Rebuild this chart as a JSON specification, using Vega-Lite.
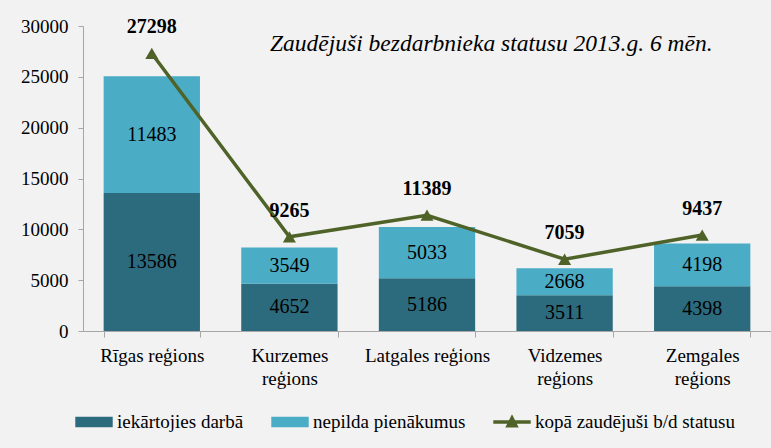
{
  "$schema": "https://vega.github.io/schema/vega-lite/v6.json",
  "autosize": "none",
  "padding": {"left": 83, "top": 26, "right": 0, "bottom": 117},
  "width": 688,
  "height": 305,
  "background": "#F2F2F2",
  "title": {
    "text": "Zaudējuši bezdarbnieka statusu 2013.g. 6 mēn.",
    "font": "Liberation Serif",
    "fontStyle": "italic",
    "fontWeight": "normal",
    "fontSize": 23.5,
    "color": "#000000",
    "anchor": "start",
    "frame": "group",
    "baseline": "alphabetic",
    "offset": 0,
    "dx": 187,
    "dy": 57
  },
  "config": {
    "view": {"stroke": null},
    "font": "Liberation Serif",
    "style": {"guide-label": {"font": "Liberation Serif"}, "guide-title": {"font": "Liberation Serif"}},
    "axis": {"labelFont": "Liberation Serif"},
    "legend": {"labelFont": "Liberation Serif"}
  },
  "datasets": {
    "bars": [
      {"region": "Rīgas reģions", "series": "iekārtojies darbā", "value": 13586, "order": 1},
      {"region": "Rīgas reģions", "series": "nepilda pienākumus", "value": 11483, "order": 2},
      {"region": "Kurzemes reģions", "series": "iekārtojies darbā", "value": 4652, "order": 1},
      {"region": "Kurzemes reģions", "series": "nepilda pienākumus", "value": 3549, "order": 2},
      {"region": "Latgales reģions", "series": "iekārtojies darbā", "value": 5186, "order": 1},
      {"region": "Latgales reģions", "series": "nepilda pienākumus", "value": 5033, "order": 2},
      {"region": "Vidzemes reģions", "series": "iekārtojies darbā", "value": 3511, "order": 1},
      {"region": "Vidzemes reģions", "series": "nepilda pienākumus", "value": 2668, "order": 2},
      {"region": "Zemgales reģions", "series": "iekārtojies darbā", "value": 4398, "order": 1},
      {"region": "Zemgales reģions", "series": "nepilda pienākumus", "value": 4198, "order": 2}
    ],
    "totals": [
      {"region": "Rīgas reģions", "total": 27298},
      {"region": "Kurzemes reģions", "total": 9265},
      {"region": "Latgales reģions", "total": 11389},
      {"region": "Vidzemes reģions", "total": 7059},
      {"region": "Zemgales reģions", "total": 9437}
    ]
  },
  "encoding": {
    "x": {
      "field": "region",
      "type": "nominal",
      "sort": ["Rīgas reģions", "Kurzemes reģions", "Latgales reģions", "Vidzemes reģions", "Zemgales reģions"],
      "scale": {"paddingInner": 0.3, "paddingOuter": 0.15},
      "axis": {
        "title": null,
        "labelAngle": 0,
        "tickBand": "extent",
        "tickSize": 6,
        "tickColor": "#A6A6A6",
        "domainColor": "#A6A6A6",
        "labelFont": "Liberation Serif",
        "labelFontSize": 19,
        "labelColor": "#000000",
        "labelPadding": 9,
        "labelLineHeight": 23,
        "labelLimit": 200,
        "labelExpr": "indexof(['Kurzemes reģions','Vidzemes reģions','Zemgales reģions'], datum.label) >= 0 ? split(datum.label, ' ') : datum.label",
        "encode": {"labels": {"update": {"font": {"value": "Liberation Serif"}}}}
      }
    }
  },
  "layer": [
    {
      "data": {"name": "bars"},
      "mark": {"type": "bar"},
      "encoding": {
        "y": {
          "field": "value",
          "type": "quantitative",
          "stack": "zero",
          "scale": {"domain": [0, 30000]},
          "axis": {
            "title": null,
            "grid": false,
            "values": [0, 5000, 10000, 15000, 20000, 25000, 30000],
            "format": "d",
            "domainColor": "#A6A6A6",
            "tickColor": "#A6A6A6",
            "tickSize": 5,
            "labelFont": "Liberation Serif",
            "labelFontSize": 19,
            "labelColor": "#000000",
            "labelPadding": 10,
            "encode": {"labels": {"update": {"font": {"value": "Liberation Serif"}}}}
          }
        },
        "order": {"field": "order", "type": "quantitative"},
        "color": {
          "field": "series",
          "type": "nominal",
          "scale": {
            "domain": ["iekārtojies darbā", "nepilda pienākumus", "kopā zaudējuši b/d statusu"],
            "range": ["#2C6B7D", "#4BACC6", "#4F6228"]
          },
          "legend": {
            "title": null,
            "orient": "none",
            "direction": "horizontal",
            "legendX": -8,
            "legendY": 377,
            "labelFont": "Liberation Serif",
            "labelFontSize": 19,
            "labelColor": "#000000",
            "labelOffset": 4,
            "labelLimit": 300,
            "columnPadding": 27,
            "symbolSize": 1400,
            "symbolStrokeWidth": 0,
            "encode": {
              "labels": {"update": {"font": {"value": "Liberation Serif"}}},
              "symbols": {
                "update": {
                  "shape": {"signal": "datum.value == 'kopā zaudējuši b/d statusu' ? 'M-1,-0.09H1V0.09H-1Z M0,-0.42L0.36,0.3H-0.36Z' : 'M-1,-0.28H1V0.28H-1Z'"},
                  "fill": {"scale": "color", "field": "value"},
                  "opacity": {"value": 1},
                  "strokeWidth": {"value": 0}
                }
              }
            }
          }
        }
      }
    },
    {
      "data": {"name": "bars"},
      "transform": [
        {"stack": "value", "groupby": ["region"], "sort": [{"field": "order", "order": "ascending"}], "as": ["v0", "v1"]},
        {"calculate": "(datum.v0 + datum.v1) / 2", "as": "mid"}
      ],
      "mark": {"type": "text", "font": "Liberation Serif", "fontSize": 20, "color": "#000000", "baseline": "middle"},
      "encoding": {
        "y": {"field": "mid", "type": "quantitative"},
        "text": {"field": "value", "type": "quantitative", "format": "d"}
      }
    },
    {
      "data": {"name": "totals"},
      "mark": {"type": "line", "strokeWidth": 3.5, "point": {"shape": "triangle-up", "size": 170, "filled": true, "opacity": 1}},
      "encoding": {
        "y": {"field": "total", "type": "quantitative"},
        "color": {"datum": "kopā zaudējuši b/d statusu"}
      }
    },
    {
      "data": {"name": "totals"},
      "mark": {"type": "text", "font": "Liberation Serif", "fontSize": 20, "fontWeight": "bold", "color": "#000000", "baseline": "middle", "dy": -26},
      "encoding": {
        "y": {"field": "total", "type": "quantitative"},
        "text": {"field": "total", "type": "quantitative", "format": "d"}
      }
    }
  ]
}
